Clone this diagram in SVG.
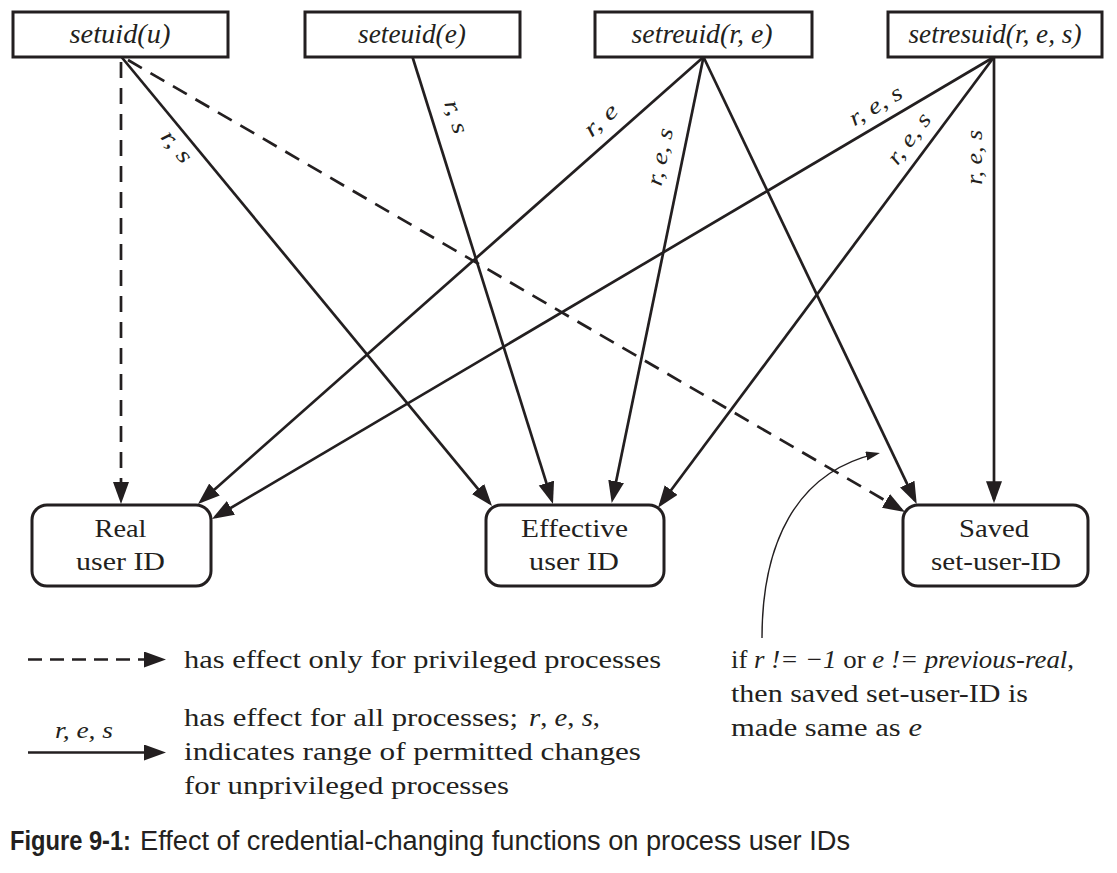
<svg xmlns="http://www.w3.org/2000/svg" width="1117" height="873" viewBox="0 0 1117 873">
<defs>
<style>
.box{fill:#fff;stroke:#231f20;stroke-width:3}
.ln{fill:none;stroke:#231f20;stroke-width:2.7}
.dash{stroke-dasharray:16 10}
.ldash{stroke-dasharray:14 8}
.thin{fill:none;stroke:#231f20;stroke-width:1.4}
.fn{font-family:"Liberation Serif",serif;font-style:italic;font-size:27px;fill:#231f20;text-anchor:middle}
.lbl{font-family:"Liberation Serif",serif;font-style:italic;font-size:23px;fill:#231f20;text-anchor:middle}
.nm{font-family:"Liberation Serif",serif;font-size:26px;fill:#231f20;text-anchor:middle}
.tx{font-family:"Liberation Serif",serif;font-size:26px;fill:#231f20}
.it{font-style:italic}
.cap{font-family:"Liberation Sans",sans-serif;font-size:27px;fill:#231f20}
</style>
<marker id="ah" markerUnits="userSpaceOnUse" markerWidth="24" markerHeight="18" refX="18" refY="8" orient="auto"><path d="M0,0 L22,8 L0,16 Z" fill="#231f20"/></marker>
<marker id="ahs" markerUnits="userSpaceOnUse" markerWidth="16" markerHeight="10" refX="11" refY="4.5" orient="auto"><path d="M0,0 L14,4.5 L0,9 Z" fill="#231f20"/></marker>
</defs>
<rect width="1117" height="873" fill="#fff"/>

<g id="connectors">
<line class="ln dash" x1="121" y1="62" x2="121" y2="500" marker-end="url(#ah)"/>
<line class="ln" x1="121.5" y1="57" x2="489.5" y2="502.9" marker-end="url(#ah)"/>
<line class="ln dash" x1="128" y1="60" x2="901.5" y2="510" marker-end="url(#ah)"/>
<line class="ln" x1="412.5" y1="57" x2="551.8" y2="500.2" marker-end="url(#ah)"/>
<line class="ln" x1="703.5" y1="57" x2="201" y2="501.4" marker-end="url(#ah)"/>
<line class="ln" x1="703.5" y1="57" x2="612.5" y2="499.1" marker-end="url(#ah)"/>
<line class="ln" x1="703.5" y1="57" x2="915" y2="500.4" marker-end="url(#ah)"/>
<line class="ln" x1="994" y1="57" x2="215.4" y2="517" marker-end="url(#ah)"/>
<line class="ln" x1="994" y1="57" x2="660.4" y2="504.5" marker-end="url(#ah)"/>
<line class="ln" x1="994" y1="57" x2="994" y2="499.3" marker-end="url(#ah)"/>
<path class="thin" d="M762,638 C762,545 795,472 877,453.6" marker-end="url(#ahs)"/>
<text class="lbl" transform="translate(175,148) rotate(50.5)" dy="5" textLength="36" lengthAdjust="spacingAndGlyphs">r, s</text>
<text class="lbl" transform="translate(454,117.5) rotate(72.5)" dy="5" textLength="34" lengthAdjust="spacingAndGlyphs">r, s</text>
<text class="lbl" transform="translate(602.3,121.7) rotate(-41.5)" dy="5" textLength="38" lengthAdjust="spacingAndGlyphs">r, e</text>
<text class="lbl" transform="translate(662.3,157.3) rotate(-78.4)" dy="5" textLength="58" lengthAdjust="spacingAndGlyphs">r, e, s</text>
<text class="lbl" transform="translate(876.7,107.5) rotate(-30.6)" dy="5" textLength="58" lengthAdjust="spacingAndGlyphs">r, e, s</text>
<text class="lbl" transform="translate(910.7,140) rotate(-53.3)" dy="5" textLength="58" lengthAdjust="spacingAndGlyphs">r, e, s</text>
<text class="lbl" transform="translate(976.7,157.3) rotate(-90)" dy="5" textLength="55" lengthAdjust="spacingAndGlyphs">r, e, s</text>
</g>

<g id="setuid">
<rect class="box" x="13" y="12" width="215" height="45"/>
<text class="fn" x="120" y="43" textLength="101" lengthAdjust="spacingAndGlyphs">setuid(u)</text>
</g>
<g id="seteuid">
<rect class="box" x="305" y="12" width="215" height="45"/>
<text class="fn" x="412" y="43" textLength="108" lengthAdjust="spacingAndGlyphs">seteuid(e)</text>
</g>
<g id="setreuid">
<rect class="box" x="595" y="12" width="217" height="45"/>
<text class="fn" x="702" y="43" textLength="141" lengthAdjust="spacingAndGlyphs">setreuid(r, e)</text>
</g>
<g id="setresuid">
<rect class="box" x="888" y="12" width="214" height="45"/>
<text class="fn" x="995" y="43" textLength="173" lengthAdjust="spacingAndGlyphs">setresuid(r, e, s)</text>
</g>

<g id="real">
<rect class="box" x="32" y="505" width="179" height="81" rx="15"/>
<text class="nm" x="120.5" y="537" textLength="52" lengthAdjust="spacingAndGlyphs">Real</text>
<text class="nm" x="120.5" y="570" textLength="89" lengthAdjust="spacingAndGlyphs">user ID</text>
</g>
<g id="effective">
<rect class="box" x="486" y="505" width="178" height="81" rx="15"/>
<text class="nm" x="574.5" y="537" textLength="107" lengthAdjust="spacingAndGlyphs">Effective</text>
<text class="nm" x="574" y="570" textLength="90" lengthAdjust="spacingAndGlyphs">user ID</text>
</g>
<g id="saved">
<rect class="box" x="903" y="505" width="185" height="81" rx="15"/>
<text class="nm" x="994" y="537" textLength="70" lengthAdjust="spacingAndGlyphs">Saved</text>
<text class="nm" x="996" y="570" textLength="130" lengthAdjust="spacingAndGlyphs">set-user-ID</text>
</g>

<g id="legend">
<line class="ln ldash" x1="28" y1="659.5" x2="162" y2="659.5" marker-end="url(#ah)"/>
<text class="tx" x="184" y="668" textLength="477" lengthAdjust="spacingAndGlyphs">has effect only for privileged processes</text>
<text class="lbl" x="84" y="738" textLength="58" lengthAdjust="spacingAndGlyphs">r, e, s</text>
<line class="ln" x1="28" y1="752.5" x2="162" y2="752.5" marker-end="url(#ah)"/>
<text class="tx" x="184" y="726" textLength="334" lengthAdjust="spacingAndGlyphs">has effect for all processes;</text>
<text class="tx" x="529" y="726" textLength="71" lengthAdjust="spacingAndGlyphs"><tspan class="it">r</tspan>, <tspan class="it">e</tspan>, <tspan class="it">s</tspan>,</text>
<text class="tx" x="184" y="760" textLength="457" lengthAdjust="spacingAndGlyphs">indicates range of permitted changes</text>
<text class="tx" x="184" y="794" textLength="325" lengthAdjust="spacingAndGlyphs">for unprivileged processes</text>
</g>

<g id="note">
<text class="tx" x="731" y="668" textLength="343" lengthAdjust="spacingAndGlyphs">if <tspan class="it">r != −1</tspan> or <tspan class="it">e != previous-real</tspan>,</text>
<text class="tx" x="731" y="702" textLength="297" lengthAdjust="spacingAndGlyphs">then saved set-user-ID is</text>
<text class="tx" x="731" y="736" textLength="191" lengthAdjust="spacingAndGlyphs">made same as <tspan class="it">e</tspan></text>
</g>

<g id="caption">
<text class="cap" x="10" y="850" font-weight="bold" textLength="121" lengthAdjust="spacingAndGlyphs">Figure 9-1:</text>
<text class="cap" x="140" y="850" textLength="710" lengthAdjust="spacingAndGlyphs">Effect of credential-changing functions on process user IDs</text>
</g>
</svg>
